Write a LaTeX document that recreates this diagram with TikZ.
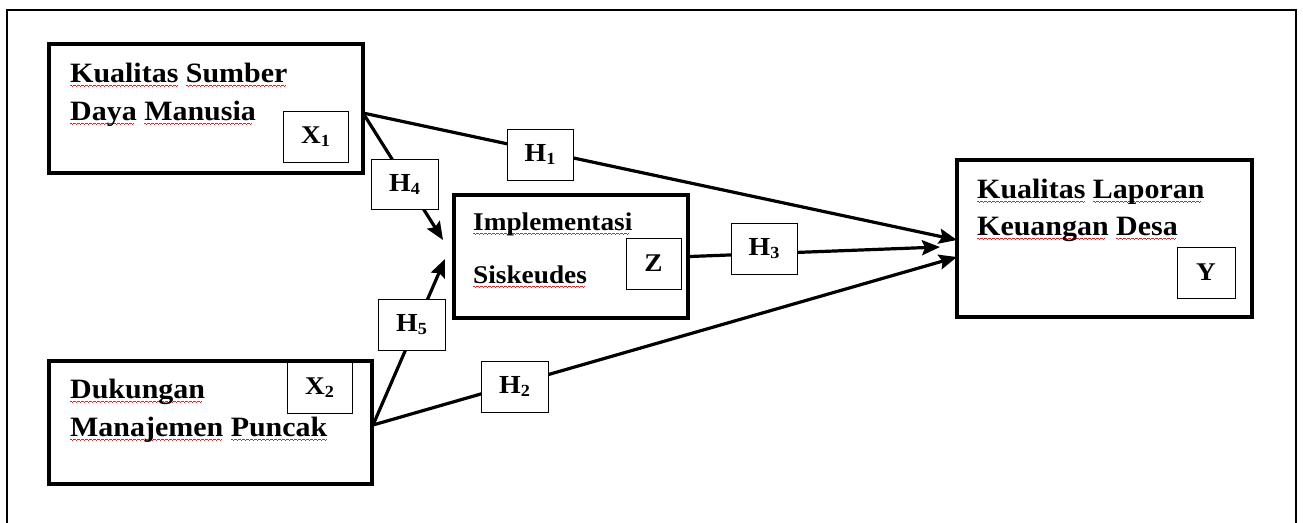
\documentclass[tikz,border=0pt]{standalone}
\usepackage{fontspec}
\setmainfont{Liberation Serif}[FakeStretch=1.07]
\usepackage{xcolor}
\usetikzlibrary{arrows.meta,backgrounds}
\definecolor{spellred}{RGB}{235,30,30}
\newcommand\wavepiece{\hbox{\rule[0pt]{1pt}{0.9pt}\rule[-0.8pt]{1pt}{0.9pt}\rule[-1.6pt]{1pt}{0.9pt}\rule[-0.8pt]{1pt}{0.9pt}}}
\newbox\splword
\newcommand\spl[1]{\setbox\splword\hbox{#1}\rlap{\raisebox{-3.5pt}[0pt][0pt]{\hbox to \wd\splword{\color{spellred}\leaders\wavepiece\hfil}}}\box\splword}
\newcommand\sbs[1]{\raisebox{-3pt}{\fontsize{17}{17}\selectfont #1}}
\tikzset{
  bigbox/.style={draw, line width=3.5pt, fill=white, inner sep=0pt},
  smallbox/.style={draw, line width=1pt, fill=white, inner sep=0pt, font=\fontsize{25.5}{30}\selectfont\bfseries},
  hypbox/.style={draw, line width=1pt, fill=white, inner sep=0pt, font=\fontsize{26}{30}\selectfont\bfseries},
  lbl/.style={anchor=base west, inner sep=0pt, font=\fontsize{28}{34}\selectfont\bfseries},
  lblz/.style={anchor=base west, inner sep=0pt, font=\fontsize{25.5}{30}\selectfont\bfseries},
  arr/.style={line width=3.2pt, -{Stealth[length=18pt,width=15pt,inset=3pt]}},
}
\begin{document}
\begin{tikzpicture}[x=1pt,y=-1pt]
\useasboundingbox (0,0) rectangle (1303,522);
\draw[line width=2pt] (7,530) -- (7,10) -- (1296,10) -- (1296,530);

% main boxes
\node[bigbox, minimum width=314pt, minimum height=129pt] (X1) at (206,108.5) {};
\node[bigbox, minimum width=323pt, minimum height=123pt] (X2) at (210.5,422.5) {};
\node[bigbox, minimum width=234pt, minimum height=123pt] (Z) at (571,256.5) {};
\node[bigbox, minimum width=295pt, minimum height=157pt] (Y) at (1104.5,238.5) {};

% labels
\node[lbl] (x1a) at (70,82) {\spl{Kualitas} \spl{Sumber}};
\node[lbl] (x1b) at (70,120) {\spl{Daya} \spl{Manusia}};
\node[lbl] (x2a) at (70,398) {\spl{Dukungan}};
\node[lbl] (x2b) at (70,436) {\spl{Manajemen} \spl{Puncak}};
\node[lblz] (za) at (473,230) {\spl{Implementasi}};
\node[lblz] (zb) at (473,283) {\spl{Siskeudes}};
\node[lbl] (ya) at (977,198) {\spl{Kualitas} \spl{Laporan}};
\node[lbl] (yb) at (977,235) {\spl{Keuangan} \spl{Desa}};

% variable tags
\node[smallbox, minimum width=65pt, minimum height=51pt] (X1s) at (315.5,136.5) {X\sbs{1}};
\node[smallbox, minimum width=65pt, minimum height=51pt] (X2s) at (319.5,387.5) {X\sbs{2}};
\node[smallbox, minimum width=55pt, minimum height=51pt] (Zs) at (653.5,263.5) {Z};
\node[smallbox, minimum width=58pt, minimum height=51pt] (Ys) at (1206,272.5) {Y};

% connector end points
\coordinate (x1o) at (363,113);
\coordinate (x2o) at (373,425);
\coordinate (y1) at (957,240);
\coordinate (y3) at (940,247);
\coordinate (y2) at (957,257);
\coordinate (z4) at (443,240);
\coordinate (z5) at (445,259);

% hypothesis labels
\node[hypbox, minimum width=66pt, minimum height=51pt] (H1) at (540,154.5) {H\sbs{1}};
\node[hypbox, minimum width=67pt, minimum height=50pt] (H4) at (404.5,184) {H\sbs{4}};
\node[hypbox, minimum width=67pt, minimum height=51pt] (H5) at (411.5,324.5) {H\sbs{5}};
\node[hypbox, minimum width=67pt, minimum height=51pt] (H2) at (514.5,386.5) {H\sbs{2}};
\node[hypbox, minimum width=66pt, minimum height=51pt] (H3) at (764,248.5) {H\sbs{3}};

\begin{pgfonlayer}{background}
\draw[arr] (x1o) -- (y1);
\draw[arr] (x1o) -- (z4);
\draw[arr] (x2o) -- (z5);
\draw[arr] (x2o) -- (y2);
\draw[arr] (Z.east) -- (y3);
\end{pgfonlayer}
\end{tikzpicture}
\end{document}
